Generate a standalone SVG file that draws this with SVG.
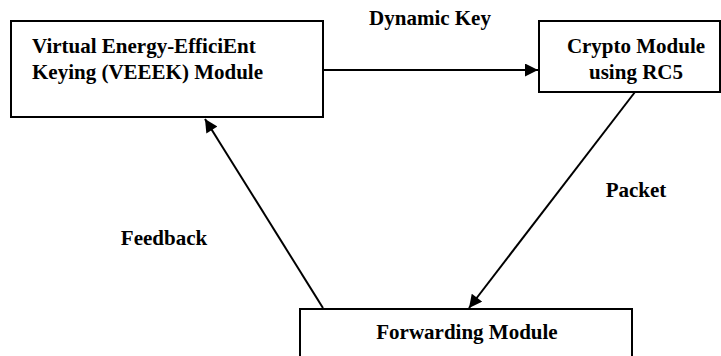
<svg xmlns="http://www.w3.org/2000/svg" width="721" height="356" viewBox="0 0 721 356">
<style>
.box{fill:#fff;stroke:#000;stroke-width:2}
.t{font-family:'Liberation Serif','DejaVu Serif',serif;font-weight:bold;font-size:21px;fill:#000}
.c{stroke:#000;stroke-width:2;fill:none}
</style>
<defs>
<marker id="ah" viewBox="0 0 10 10" refX="10" refY="5" markerWidth="14" markerHeight="13" markerUnits="userSpaceOnUse" orient="auto">
<path d="M0,0 L10,5 L0,10 Z" fill="#000"/>
</marker>
</defs>
<rect width="721" height="356" fill="#fff"/>
<g id="veeek">
<rect class="box" x="11" y="21" width="312" height="96"/>
<text class="t" x="32" y="53">Virtual Energy-EfficiEnt</text>
<text class="t" x="32" y="79">Keying (VEEEK) Module</text>
</g>
<g id="crypto">
<rect class="box" x="539" y="21" width="181" height="71"/>
<text class="t" x="636" y="53" text-anchor="middle">Crypto Module</text>
<text class="t" x="636" y="79" text-anchor="middle">using RC5</text>
</g>
<g id="forwarding">
<rect class="box" x="300" y="309" width="332" height="60"/>
<text class="t" x="467" y="339" text-anchor="middle">Forwarding Module</text>
</g>
<g id="connectors">
<line class="c" x1="323" y1="70" x2="538" y2="70" marker-end="url(#ah)"/>
<line class="c" x1="635" y1="92" x2="469" y2="308" marker-end="url(#ah)"/>
<line class="c" x1="323" y1="308" x2="205" y2="119" marker-end="url(#ah)"/>
</g>
<g id="labels">
<text class="t" x="430" y="25" text-anchor="middle">Dynamic Key</text>
<text class="t" x="636" y="197" text-anchor="middle">Packet</text>
<text class="t" x="164" y="245" text-anchor="middle">Feedback</text>
</g>
</svg>
